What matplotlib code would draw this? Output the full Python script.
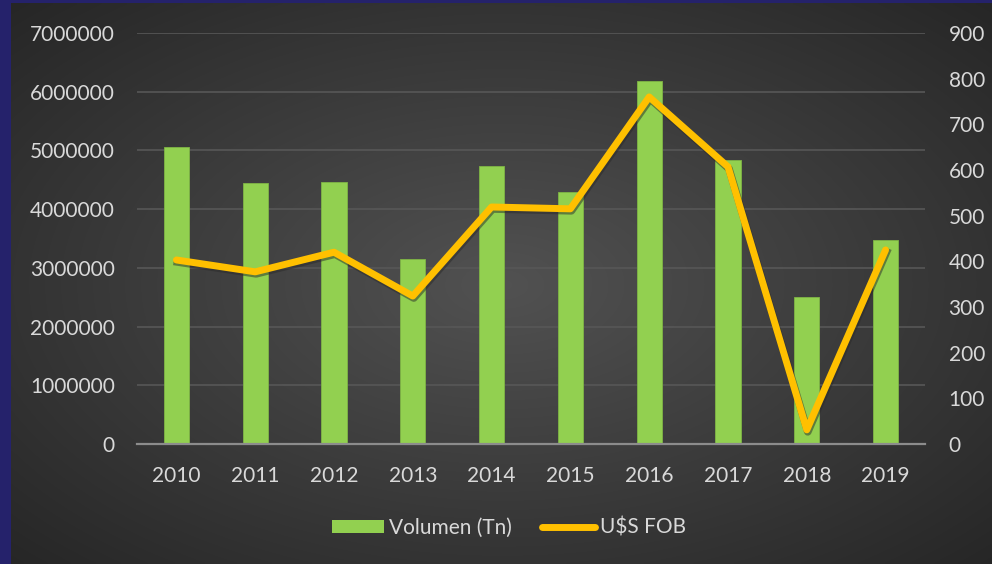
import numpy as np
import matplotlib
matplotlib.use("Agg")
import matplotlib.pyplot as plt
from matplotlib.patches import Patch
from matplotlib.lines import Line2D

years = ["2010", "2011", "2012", "2013", "2014", "2015", "2016", "2017", "2018", "2019"]
volumen = [5060000, 4450000, 4460000, 3150000, 4740000, 4290000, 6180000, 4840000, 2500000, 3480000]
fob = [403, 377, 420, 324, 519, 515, 760, 607, 31, 425]
left_ticks = [0, 1000000, 2000000, 3000000, 4000000, 5000000, 6000000, 7000000]
right_ticks = [0, 100, 200, 300, 400, 500, 600, 700, 800, 900]

plt.rcParams['font.family'] = ['Lato', 'DejaVu Sans']
txt = '#d9d9d9'
W, H = 992, 564
fig = plt.figure(figsize=(W/100, H/100), dpi=100)
fig.patch.set_facecolor('#25226b')

# background panel with radial gradient
bg = fig.add_axes([11/W, 0, (W-11)/W, (H-3)/H])
yy, xx = np.mgrid[0:200, 0:350]
cx, cy = 175, 100
r = np.sqrt(((xx-cx)/175)**2 + ((yy-cy)/100)**2) / np.sqrt(2)
c = 0.32 - 0.17*r
img = np.dstack([c, c, c])
bg.imshow(img, aspect='auto', extent=[0, 1, 0, 1], interpolation='bilinear')
bg.axis('off')

fs = 15
ax = fig.add_axes([137/W, 1-444/H, (925-137)/W, (444-33)/H])
ax.patch.set_alpha(0)
x = np.arange(len(years))
ax.bar(x, volumen, width=0.32, color='#92d050', edgecolor='#7fb545', linewidth=0.6, zorder=3)
ax.set_ylim(0, 7000000)
ax.set_xlim(-0.5, len(years)-0.5)
ax.set_yticks(left_ticks)
ax.set_yticklabels([str(v) for v in left_ticks])
ax.set_xticks(x)
ax.set_xticklabels(years)
ax.grid(axis='y', color='#575757', linewidth=1.2, zorder=0)
ax.set_axisbelow(True)
for s in ['top', 'right', 'left']:
    ax.spines[s].set_visible(False)
ax.spines['bottom'].set_color('#8c8c8c')
ax.spines['bottom'].set_linewidth(1.6)
ax.spines['bottom'].set_zorder(4)
ax.tick_params(axis='both', length=0, colors=txt, labelsize=fs)
ax.tick_params(axis='y', pad=16)
ax.tick_params(axis='x', pad=16)

ax2 = ax.twinx()
ax2.set_ylim(0, 900)
ax2.set_yticks(right_ticks)
ax2.set_yticklabels([str(v) for v in right_ticks])
for s in ax2.spines.values():
    s.set_visible(False)
ax2.tick_params(axis='y', length=0, colors=txt, labelsize=fs, pad=17)
ax2.plot(x, fob, color='#2a2a2a', linewidth=5.5, alpha=0.5, zorder=2,
         solid_joinstyle='round', transform=ax2.transData + matplotlib.transforms.ScaledTranslation(1/100, -2/100, fig.dpi_scale_trans))
ax2.plot(x, fob, color='#ffc000', linewidth=5.0, zorder=4, solid_joinstyle='round', solid_capstyle='round')

handles = [Patch(facecolor='#92d050', edgecolor='none'),
           Line2D([0], [0], color='#ffc000', linewidth=5, solid_capstyle='round')]
leg = fig.legend(handles, ['Volumen (Tn)', 'U$S FOB'], loc='center', bbox_to_anchor=(0.513, 1-528/H),
                 ncol=2, frameon=False, fontsize=fs, labelcolor=txt, handlelength=2.5,
                 handleheight=0.6, handletextpad=0.25, columnspacing=1.45)

fig.savefig('out.png', dpi=100, facecolor=fig.get_facecolor())
